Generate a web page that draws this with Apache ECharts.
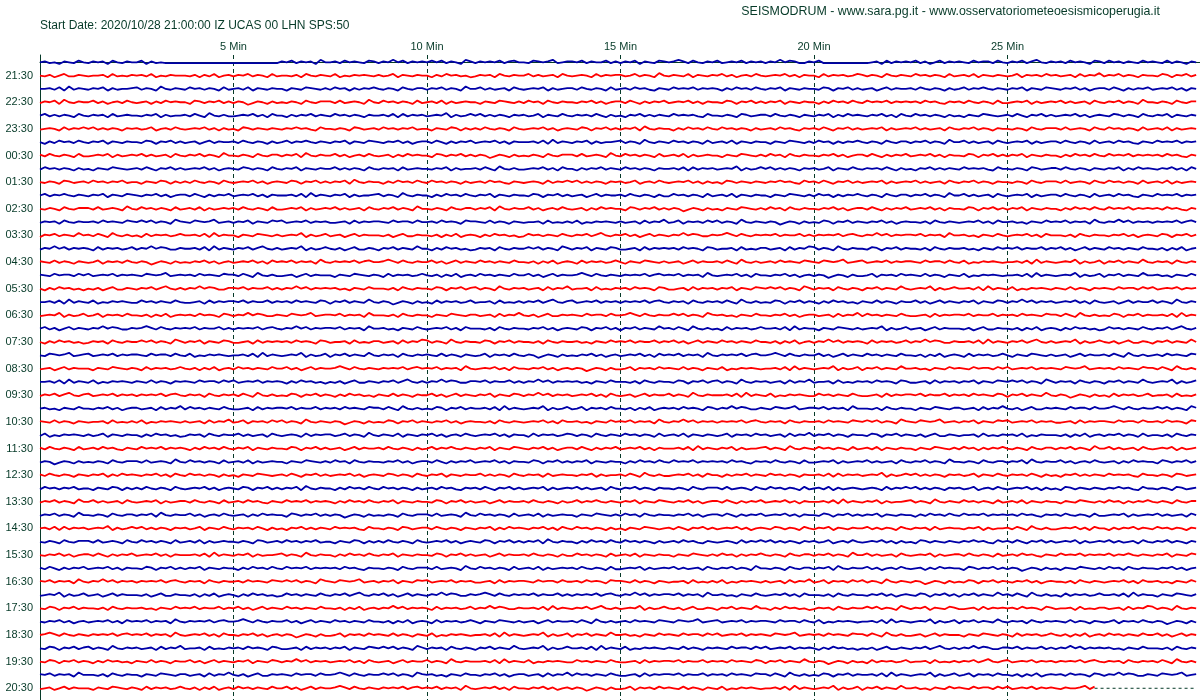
<!DOCTYPE html>
<html><head><meta charset="utf-8">
<script src="https://cdn.jsdelivr.net/npm/echarts@6/dist/echarts.min.js"></script>
<style>html,body{margin:0;padding:0;background:#fff}#c{width:1200px;height:700px}</style>
</head><body><div id="c"></div>
<script>
const titleText = 'Start Date: 2020/10/28 21:00:00 IZ UCAS 00 LHN SPS:50';
const creditText = 'SEISMODRUM - www.sara.pg.it - www.osservatoriometeoesismicoperugia.it';
const minuteTicks = [5, 10, 15, 20, 25];
const minuteLabels = ['5 Min', '10 Min', '15 Min', '20 Min', '25 Min'];
const hourLabelRows = [1,3,5,7,9,11,13,15,17,19,21,23,25,27,29,31,33,35,37,39,41,43,45,47];
const hourLabels = ['21:30','22:30','23:30','00:30','01:30','02:30','03:30','04:30','05:30','06:30','07:30','08:30','09:30','10:30','11:30','12:30','13:30','14:30','15:30','16:30','17:30','18:30','19:30','20:30'];
const sampleStepMinutes = 0.125;      // one character = one sample
const sampleZero = 5;                 // digit meaning "no deflection"
const rowsPerCount = 0.062;           // deflection of one count, in trace rows
const traceColors = ['#0000a8', '#ff0000'];
const gridColor = '#063a28';
const lastTraceEnd = 27.25;           // minutes reached by the last (incomplete) trace
const drumEnd = 29.875;

// one string per 30-minute trace (21:00, 21:30, ... 20:30); digits = sampled deflection
const traces = [
"5645365475 4656375465 5736454444 4444444444 4444444444 6574656385 5647565476 4658574656 5757465386 4656574675 5476568456 6574655746 4657365476 5686475465 7456574656 4658576446 5744444444 4456374656 5746357465 6547566475 4657468546 5647565376 4756465475 6547465365",
"5463574465 4556374546 5647354655 5463647356 4657465374 5546375465 4735465654 6457365465 5364756453 4656375465 5746456375 4565374656 6457465385 4654736546 5746356475 4565746365 5374656457 6465375465 4756465374 5647365465 4573656475 6456374658 4657465365 5476365746",
"5564738465 4657364556 7465385465 4756465374 5647365465 5365476546 4756364657 5465375466 4657465385 5746456375 4565736456 6475465374 5647564365 4756574656 5364756475 4657365465 5476365746 4563574655 6475465364 5746575465 4657365476 5465746356 6475364657 4565746365",
"4657385465 5746356475 4563647565 5376465746 4652465364 5465375466 6474565385 4756465374 5647364565 5365476546 4756375465 5465746356 6475364657 4565746365 5476365746 4657365465 5364756475 4756574656 5647564365 6475465374 4565736456 5746456375 4657465385 5465375466",
"5746465375 4656374565 5465736455 6475385464 4565746375 5364657465 4756465365 5647374656 4565836457 5746465365 6457365475 4656475364 5365746465 4756564375 5465376456 6475465365 4657364756 5465746375 4756465364 5365476545 6475365746 4565746356 5476465375 4657365465",
"4565374657 5746465365 6457356475 4565746364 5376465465 4657564375 5465376456 4756465745 5365476364 6475465375 4565746356 5476365746 4657385465 5364756475 4756465364 5647564365 6475365746 4565736456 5746456375 4657465365 5465375466 6474565375 4756465374 5647364565",
"5364756475 4657365465 5476365746 4563574655 6475465364 5746575465 4657365476 5465746356 6475364657 4565746365 5564738465 4657364556 7465385465 4756465374 5647365465 5365476546 4756364657 5465375466 4657465385 5746456375 4565736456 6475465374 5647564365 4756574656",
"6475465374 4565736456 5746456375 4657465385 5465375466 4657385465 5746356475 4563647565 5376465746 4652465364 5465375466 6474565385 4756465374 5647364565 5365476546 4756375465 5465746356 6475364657 4565746365 5476365746 4657365465 5364756475 4756574656 5647564365",
"4756465364 5365476545 6475365746 4565746356 5476465375 4657365465 5746465375 4656374565 5465736455 6475385464 4565746375 5364657465 4756465365 5647374656 4565836457 5746465365 6457365475 4656475364 5365746465 4756564375 5465376456 6475465365 4657364756 5465746375",
"5465376456 4756465745 5365476364 6475465375 4565746356 5476365746 4657385465 5364756475 4756465364 5647564365 4565374657 5746465365 6457356475 4565746364 5376465465 4657564375 6475365746 4565736456 5746456375 4657465365 5465375466 6474565375 4756465374 5647364565",
"5746575465 4657365476 5465746356 6475364657 4565746365 5564738465 4657364556 7465385465 5364756475 4657365465 5476365746 4563574655 6475465364 4756465374 5647365465 5365476546 4756364657 5465375466 4657465385 5746456375 4565736456 6475465374 5647564365 4756574656",
"5465375466 6474565385 4756465374 5647364565 6475465374 4565736456 5746456375 4657465385 5465375466 4657385465 5746356475 4563647565 5376465746 4652465364 5365476546 4756375465 5465746356 6475364657 4565746365 5476365746 4657365465 5364756475 4756574656 5647564365",
"4656375465 5647565476 5757465386 5476568456 4657365476 7456574656 4456374656 6547566475 5647565376 6547465365 4556374546 4735465654 6456374658 4573656475 7465385465 4652465364 5476365746 5465746356 5546375465 4565746375 5645365475 6574656385 4658574656 4656574675",
"3657465485 6475385464 5374656457 5564738465 5365476546 4565836457 4563574655 5463574465 5463647356 5364756453 4756465475 4657468546 5746357465 4658576446 5686475465 6574655746 4656574675 4658574656 6574656385 5645365475 4565746375 5546375465 5465746356 5476365746",
"4658574656 5374656457 4658576446 5564738465 4657468546 4565836457 5463574465 3657465485 5364756453 4656375465 5757465386 4657365476 4456374656 5647565376 4556374546 6456374658 7465385465 5476365746 5546375465 5645365475 6574655746 5746357465 4756465475 5463647356",
"6547465365 4573656475 4652465364 5465746356 4565746375 6574656385 4656574675 5686475465 5746357465 4756465475 5463647356 5374656457 5365476546 4563574655 6475385464 5647565476 5476568456 7456574656 6547566475 4735465654 5564738465 4565836457 3657465485 4656375465",
"6547566475 7456574656 5476568456 5647565476 6475385464 4563574655 5365476546 5374656457 5463647356 4756465475 5746357465 5686475465 4656574675 6574656385 4565746375 5465746356 4652465364 4573656475 6547465365 4735465654 5564738465 4565836457 3657465485 5645365475",
"5364756453 5463574465 4657468546 4658576446 6574655746 4658574656 5645365475 5546375465 5476365746 7465385465 6456374658 4556374546 5647565376 4456374656 4657365476 5757465386 4656375465 3657465485 4565836457 5564738465 4735465654 6547465365 6547566475 7456574656",
"5564738465 4735465654 4756465475 4456374656 6574655746 5647565476 3657465485 4652465364 5374656457 4556374546 4657468546 7456574656 4656574675 4656375465 6475385464 5476365746 5364756453 6547465365 5746357465 4657365476 4658574656 4565746375 4563574655 7465385465",
"4565836457 4573656475 5463647356 5647565376 4658576446 5476568456 6574656385 5546375465 5365476546 6456374658 5463574465 6547566475 5686475465 5757465386 5645365475 5465746356 6456374658 4756465475 4456374656 6574655746 5647565476 6475385464 5476365746 5564738465",
"5746357465 4658576446 5686475465 6574655746 4656574675 4658574656 6574656385 5645365475 4565746375 5546375465 5465746356 5476365746 3657465485 6475385464 5374656457 5564738465 5365476546 4565836457 4563574655 5463574465 5463647356 5364756453 4756465475 4657468546",
"5364756453 4656375465 5757465386 4657365476 4456374656 5647565376 4556374546 6456374658 7465385465 5476365746 5546375465 5645365475 6574655746 5746357465 4756465475 5463647356 4658574656 5374656457 4658576446 5564738465 4657468546 4565836457 5463574465 3657465485",
"5476568456 7456574656 6547566475 4735465654 5564738465 4565836457 3657465485 4656375465 6547465365 4573656475 4652465364 5465746356 4565746375 6574656385 4656574675 5686475465 5746357465 4756465475 5463647356 5374656457 5365476546 4563574655 6475385464 5647565476",
"4563574655 5365476546 5374656457 5463647356 4756465475 5746357465 5686475465 4656574675 6574656385 4565746375 5465746356 4652465364 4573656475 6547465365 4735465654 5564738465 4565836457 3657465485 5645365475 6547566475 7456574656 5476568456 5647565476 6475385464",
"5564738465 4735465654 6547465365 6547566475 7456574656 5364756453 5463574465 4657468546 4658576446 6574655746 4658574656 5645365475 5546375465 5476365746 7465385465 6456374658 4556374546 5647565376 4456374656 4657365476 5757465386 4656375465 3657465485 4565836457",
"4657468546 7456574656 4656574675 4656375465 6475385464 5476365746 5364756453 6547465365 5746357465 4657365476 4658574656 4565746375 4563574655 7465385465 5564738465 4735465654 4756465475 4456374656 6574655746 5647565476 3657465485 4652465364 5374656457 4556374546",
"5645365475 5465746356 6456374658 4756465475 4456374656 6574655746 5647565476 6475385464 5476365746 5564738465 4565836457 4573656475 5463647356 5647565376 4658576446 5476568456 6574656385 5546375465 5365476546 6456374658 5463574465 6547566475 5686475465 5757465386",
"6547465365 4556374546 4735465654 6456374658 4573656475 7465385465 4652465364 5476365746 5465746356 5546375465 4565746375 5645365475 6574656385 4658574656 4656574675 4656375465 5647565476 5757465386 5476568456 4657365476 7456574656 4456374656 6547566475 5647565376",
"4735465654 6457365465 5364756453 4656375465 5746456375 4565374656 6457465385 4654736546 5746356475 4565746365 5374656457 6465375465 4756465374 5647365465 4573656475 6456374658 4657465365 5476365746 5463574465 4556374546 5647354655 5463647356 4657465374 5546375465",
"6475465374 5647564365 4756574656 5364756475 4657365465 5476365746 4563574655 6475465364 5746575465 4657365476 5465746356 6475364657 4565746365 5564738465 4657364556 7465385465 4756465374 5647365465 5365476546 4756364657 5465375466 4657465385 5746456375 4565736456",
"4652465364 5465375466 6474565385 4756465374 5647364565 5365476546 4756375465 5465746356 6475364657 4565746365 5476365746 4657365465 5364756475 4756574656 5647564365 6475465374 4565736456 5746456375 4657465385 5465375466 4657385465 5746356475 4563647565 5376465746",
"6475465365 4657364756 5465746375 4756465364 5365476545 6475365746 4565746356 5476465375 4657365465 5746465375 4656374565 5465736455 6475385464 4565746375 5364657465 4756465365 5647374656 4565836457 5746465365 6457365475 4656475364 5365746465 4756564375 5465376456",
"4756465745 5365476364 6475465375 4565746356 5476365746 4657385465 5364756475 4756465364 5647564365 6475365746 4565736456 5746456375 4657465365 5465375466 6474565375 4756465374 5647364565 4565374657 5746465365 6457356475 4565746364 5376465465 4657564375 5465376456",
"4657465385 5746456375 4565736456 6475465374 5647564365 4756574656 5364756475 4657365465 5476365746 4563574655 6475465364 5746575465 4657365476 5465746356 6475364657 4565746365 5564738465 4657364556 7465385465 4756465374 5647365465 5365476546 4756364657 5465375466",
"4657465385 5465375466 4657385465 5746356475 4563647565 5376465746 4652465364 5465375466 6474565385 4756465374 5647364565 5365476546 4756375465 5465746356 6475364657 4565746365 5476365746 4657365465 5364756475 4756574656 5647564365 6475465374 4565736456 5746456375",
"5647374656 4565836457 5746465365 6457365475 4656475364 5365746465 4756564375 5465376456 6475465365 4657364756 5465746375 4756465364 5365476545 6475365746 4565746356 5476465375 4657365465 5746465375 4656374565 5465736455 6475385464 4565746375 5364657465 4756465365",
"5465375466 6474565375 4756465374 5647364565 5465376456 4756465745 5365476364 6475465375 4565746356 5476365746 4657385465 5364756475 4756465364 5647564365 4565374657 5746465365 6457356475 4565746364 5376465465 4657564375 6475365746 4565736456 5746456375 4657465365",
"5465746356 6475364657 4565746365 5564738465 4657364556 7465385465 5364756475 4657365465 5476365746 4563574655 6475465364 4756465374 5647365465 5365476546 4756364657 5465375466 4657465385 5746456375 4565736456 6475465374 5647564365 4756574656 5746575465 4657365476",
"6475364657 4565746365 5476365746 4657365465 5364756475 4756574656 5647564365 5465375466 6474565385 4756465374 5647364565 6475465374 4565736456 5746456375 4657465385 5465375466 4657385465 5746356475 4563647565 5376465746 4652465364 5365476546 4756375465 5465746356",
"6574656385 4658574656 4656574675 4656375465 5647565476 5757465386 5476568456 4657365476 7456574656 4456374656 6547566475 5647565376 6547465365 4556374546 4735465654 6456374658 4573656475 7465385465 4652465364 5476365746 5465746356 5546375465 4565746375 5645365475",
"4565836457 4563574655 5463574465 5463647356 5364756453 4756465475 4657468546 5746357465 4658576446 5686475465 6574655746 4656574675 4658574656 6574656385 5645365475 4565746375 5546375465 5465746356 5476365746 3657465485 6475385464 5374656457 5564738465 5365476546",
"5476365746 5546375465 5645365475 6574655746 5746357465 4756465475 5463647356 4658574656 5374656457 4658576446 5564738465 4657468546 4565836457 5463574465 3657465485 5364756453 4656375465 5757465386 4657365476 4456374656 5647565376 4556374546 6456374658 7465385465",
"5465746356 4565746375 6574656385 4656574675 5686475465 5746357465 4756465475 5463647356 5374656457 5365476546 4563574655 6475385464 5647565476 5476568456 7456574656 6547566475 4735465654 5564738465 4565836457 3657465485 4656375465 6547465365 4573656475 4652465364",
"5686475465 4656574675 6574656385 4565746375 5465746356 4652465364 4573656475 6547465365 4735465654 5564738465 4565836457 3657465485 5645365475 6547566475 7456574656 5476568456 5647565476 6475385464 4563574655 5365476546 5374656457 5463647356 4756465475 5746357465",
"5476365746 7465385465 6456374658 4556374546 5647565376 4456374656 4657365476 5757465386 4656375465 3657465485 4565836457 5564738465 4735465654 6547465365 6547566475 7456574656 5364756453 5463574465 4657468546 4658576446 6574655746 4658574656 5645365475 5546375465",
"5476365746 5364756453 6547465365 5746357465 4657365476 4658574656 4565746375 4563574655 7465385465 5564738465 4735465654 4756465475 4456374656 6574655746 5647565476 3657465485 4652465364 5374656457 4556374546 4657468546 7456574656 4656574675 4656375465 6475385464",
"6574656385 5546375465 5365476546 6456374658 5463574465 6547566475 5686475465 5757465386 5645365475 5465746356 6456374658 4756465475 4456374656 6574655746 5647565476 6475385464 5476365746 5564738465 4565836457 4573656475 5463647356 5647565376 4658576446 5476568456",
"4563574655 5365476546 5374656457 5463647356 4756465475 5746357465 5686475465 4656574675 6574656385 4565746375 5465746356 4652465364 4573656475 6547465365 4735465654 5564738465 4565836457 3657465485 5645365475 6547566475 7456574656 546556847"
];

const font = "'Liberation Sans', Arial, sans-serif";
const series = traces.map((str, i) => {
  const s = str.replace(/\s+/g, '');
  const data = [];
  for (let j = 0; j < s.length; j++) {
    data.push([j * sampleStepMinutes, i - (s.charCodeAt(j) - 48 - sampleZero) * rowsPerCount]);
  }
  const col = traceColors[i % 2];
  return {
    type: 'line', data, symbol: 'none', showSymbol: false, smooth: false,
    lineStyle: { width: 1.8, color: col }, itemStyle: { color: col },
    silent: true, animation: false, z: 3
  };
});
const lastRow = traces.length - 1;
series.push({
  type: 'line', symbol: 'none', silent: true, animation: false, z: 3,
  data: [[lastTraceEnd, lastRow], [drumEnd, lastRow]],
  lineStyle: { width: 1, color: gridColor, type: [3, 3] }
});

const chart = echarts.init(document.getElementById('c'), null, { renderer: 'canvas' });
chart.setOption({
  backgroundColor: '#ffffff',
  animation: false,
  title: [
    { text: titleText, left: 40, top: 20, padding: 0,
      textStyle: { fontSize: 12, fontWeight: 'normal', color: gridColor, fontFamily: font } },
    { text: creditText, right: 40, top: 6, padding: 0,
      textStyle: { fontSize: 12.4, fontWeight: 'normal', color: gridColor, fontFamily: font } }
  ],
  grid: { left: 40, top: 55, width: 1161, height: 645, containLabel: false, outerBoundsMode: 'none' },
  xAxis: {
    type: 'value', position: 'top', min: 0, max: 30, interval: 5,
    axisLine: { show: true, lineStyle: { color: gridColor, width: 1 } },
    axisTick: { show: false },
    axisLabel: {
      margin: 3, fontSize: 11, color: gridColor, fontFamily: font,
      formatter: v => { const k = minuteTicks.indexOf(v); return k >= 0 ? minuteLabels[k] : ''; }
    },
    splitLine: { show: true, lineStyle: { color: gridColor, width: 1, type: [4, 3] } }
  },
  yAxis: {
    type: 'value', inverse: true, min: -0.548, max: 47.88,
    axisLine: { show: true, lineStyle: { color: gridColor, width: 1 } },
    axisTick: { show: false },
    splitLine: { show: false },
    axisLabel: {
      customValues: hourLabelRows, margin: 7, fontSize: 11, color: gridColor, fontFamily: font,
      formatter: v => { const k = hourLabelRows.indexOf(Math.round(v)); return k >= 0 ? hourLabels[k] : ''; }
    }
  },
  series
});
</script>
</body></html>
